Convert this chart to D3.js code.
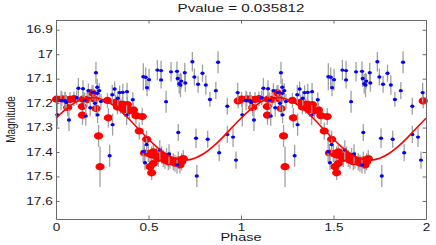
<!DOCTYPE html>
<html>
<head>
<meta charset="utf-8">
<script src="https://cdn.jsdelivr.net/npm/d3@7"></script>
<style>
  html, body { margin: 0; padding: 0; background: #fff; }
  svg { display: block; }
  text { font-family: "Liberation Sans", Arial, Helvetica, sans-serif; }
</style>
</head>
<body>
<svg id="chart" width="436" height="245"></svg>
<script>
// ---------- data (phase 0..1, repeated for 1..2) ----------
const bluePhase = [0.007,0.027,0.049,0.056,0.070,0.112,0.121,0.146,0.155,0.161,
  0.175,0.185,0.200,0.211,0.216,0.223,0.223,0.225,0.234,0.243,
  0.290,0.304,0.306,0.317,0.334,0.344,0.361,0.382,0.384,0.415,
  0.472,0.485,0.492,0.503,0.490,0.471,0.481,0.548,0.568,0.568,
  0.595,0.622,0.654,0.658,0.666,0.673,0.677,0.696,0.699,0.737,
  0.748,0.768,0.792,0.810,0.832,0.864,0.876,0.926,0.982,0.661,
  0.757,0.820,0.882,0.926,0.957,0.973,0.761,0.654,0.611,0.561];
const blueMag = [17.248,17.189,17.190,17.197,17.269,17.178,17.139,17.141,17.187,17.253,
  17.149,17.219,17.156,17.201,17.076,17.135,17.160,17.248,17.149,17.193,
  17.415,17.166,17.288,17.142,17.180,17.157,17.156,17.249,17.153,17.186,
  17.092,17.094,17.137,17.104,17.369,17.399,17.444,17.065,17.067,17.105,
  17.194,17.072,17.070,17.099,17.121,17.126,17.110,17.076,17.118,17.031,
  17.093,17.123,17.078,17.126,17.185,17.149,17.033,17.213,17.157,17.320,
  17.344,17.348,17.403,17.328,17.339,17.433,17.498,17.453,17.408,17.392];
const blueErr = [0.048,0.040,0.035,0.030,0.045,0.030,0.042,0.035,0.030,0.040,
  0.030,0.035,0.030,0.030,0.045,0.035,0.040,0.035,0.030,0.030,
  0.045,0.040,0.045,0.030,0.030,0.030,0.035,0.040,0.035,0.030,
  0.055,0.040,0.035,0.045,0.035,0.045,0.030,0.042,0.040,0.035,
  0.045,0.040,0.040,0.035,0.040,0.050,0.030,0.040,0.035,0.040,
  0.035,0.035,0.035,0.040,0.030,0.035,0.045,0.035,0.040,0.035,
  0.040,0.035,0.035,0.035,0.040,0.035,0.045,0.035,0.040,0.040];

const redPhase = [0.003,0.031,0.049,0.076,0.097,0.063,0.146,0.168,0.142,0.143,
  0.195,0.208,0.217,0.230,0.238,0.278,0.283,0.322,0.332,0.349,
  0.359,0.370,0.386,0.397,0.419,0.432,0.466,0.450,0.490,0.499,
  0.517,0.526,0.544,0.508,0.517,0.553,0.571,0.580,0.589,0.598,
  0.607,0.616,0.634,0.643,0.661,0.670,0.679,0.688,0.985,0.478,0.526];
const redMag = [17.184,17.183,17.184,17.185,17.182,17.218,17.184,17.185,17.214,17.249,
  17.157,17.183,17.222,17.334,17.460,17.189,17.260,17.197,17.216,17.214,
  17.204,17.226,17.206,17.232,17.228,17.251,17.255,17.314,17.348,17.406,
  17.412,17.399,17.419,17.460,17.485,17.426,17.412,17.426,17.433,17.419,
  17.440,17.433,17.440,17.446,17.433,17.453,17.440,17.427,17.191,17.404,17.447];
const redErr = [0.030,0.030,0.030,0.030,0.030,0.035,0.030,0.030,0.035,0.040,
  0.030,0.030,0.035,0.045,0.083,0.030,0.040,0.030,0.030,0.030,
  0.030,0.030,0.030,0.030,0.030,0.035,0.035,0.035,0.035,0.035,
  0.035,0.035,0.035,0.040,0.030,0.035,0.035,0.035,0.035,0.035,
  0.035,0.035,0.035,0.035,0.035,0.035,0.035,0.035,0.030,0.035,0.035];

const curvePhase = [0,0.05,0.1,0.15,0.2,0.25,0.3,0.35,0.4,0.45,0.5,
  0.55,0.6,0.65,0.7,0.75,0.8,0.85,0.9,0.95,1.0];
const curveMag = [17.262,17.227,17.199,17.182,17.177,17.185,17.204,17.233,17.269,17.309,17.348,
  17.383,17.411,17.428,17.433,17.425,17.406,17.377,17.341,17.301,17.262];

const xTicks = [0, 0.5, 1, 1.5, 2];
const xTickLabels = ["0", "0.5", "1", "1.5", "2"];
const yTicks = [16.9, 17, 17.1, 17.2, 17.3, 17.4, 17.5, 17.6];
const yTickLabels = ["16.9", "17", "17.1", "17.2", "17.3", "17.4", "17.5", "17.6"];
const cycles = [0, 1];

const titleText = "Pvalue = 0.035812";
const xLabel = "Phase";
const yLabel = "Magnitude";

// ---------- layout ----------
const L = 56, R = 426, T = 20, B = 219;
const SX = 1.36; // horizontal stretch of glyphs
const svg = d3.select("#chart");

const x = d3.scaleLinear().domain([0, 2]).range([L, R]);
const y = d3.scaleLinear().domain([16.86, 17.674]).range([T, B]);

const axisColor = "#6a6a6a";
const textColor = "#1a1a1a";

// expand data across the two cycles
function expand(ph, mg, er) {
  const out = [];
  cycles.forEach(c => ph.forEach((p, i) => out.push({p: p + c, m: mg[i], e: er[i]})));
  return out;
}
const blue = expand(bluePhase, blueMag, blueErr);
const red = expand(redPhase, redMag, redErr);
const curve = [];
cycles.forEach((c, ci) => curvePhase.forEach((p, i) => {
  if (ci > 0 && i === 0) return;
  curve.push({p: p + c, m: curveMag[i]});
}));

// red error bars + dots
svg.append("g").selectAll("line").data(red).join("line")
  .attr("x1", d => x(d.p)).attr("x2", d => x(d.p))
  .attr("y1", d => y(d.m - d.e)).attr("y2", d => y(d.m + d.e))
  .attr("stroke", "#a0a0a0").attr("stroke-width", 1.3);
svg.append("g").selectAll("ellipse").data(red).join("ellipse")
  .attr("cx", d => x(d.p)).attr("cy", d => y(d.m))
  .attr("rx", 4.6).attr("ry", 3.6).attr("fill", "#ff0000");

// blue error bars + dots
svg.append("g").selectAll("line").data(blue).join("line")
  .attr("x1", d => x(d.p)).attr("x2", d => x(d.p))
  .attr("y1", d => y(d.m - d.e)).attr("y2", d => y(d.m + d.e))
  .attr("stroke", "#a0a0a0").attr("stroke-width", 1.3);
svg.append("g").selectAll("ellipse").data(blue).join("ellipse")
  .attr("cx", d => x(d.p)).attr("cy", d => y(d.m))
  .attr("rx", 2.1).attr("ry", 1.7).attr("fill", "#0000ff");

// fitted curve
svg.append("path").datum(curve)
  .attr("d", d3.line().x(d => x(d.p)).y(d => y(d.m)).curve(d3.curveNatural))
  .attr("fill", "none").attr("stroke", "#ff0000").attr("stroke-width", 1.6);

// ---------- axes ----------
function styleAxis(g) {
  g.select(".domain").attr("stroke", axisColor).attr("stroke-width", 1);
  g.selectAll(".tick line").attr("stroke", axisColor).attr("stroke-width", 1);
  g.selectAll("text").attr("fill", textColor).attr("font-size", 10)
    .attr("font-family", "Liberation Sans, Arial, sans-serif");
}
const fmtX = (d, i) => xTickLabels[xTicks.indexOf(d)];
const fmtY = (d) => yTickLabels[yTicks.indexOf(d)];

const gB = svg.append("g").attr("transform", `translate(0,${B})`)
  .call(d3.axisBottom(x).tickValues(xTicks).tickFormat(fmtX)
    .tickSizeInner(-3.5).tickSizeOuter(0).tickPadding(4.6));
styleAxis(gB);
gB.selectAll("text").attr("transform", `scale(${SX},1)`);

const gT = svg.append("g").attr("transform", `translate(0,${T})`)
  .call(d3.axisTop(x).tickValues(xTicks).tickFormat("")
    .tickSizeInner(-3.5).tickSizeOuter(0));
styleAxis(gT);

const gL = svg.append("g").attr("transform", `translate(${L},0)`)
  .call(d3.axisLeft(y).tickValues(yTicks).tickFormat(fmtY)
    .tickSizeInner(-3.5).tickSizeOuter(0).tickPadding(2.4));
styleAxis(gL);
gL.selectAll("text").attr("transform", `scale(${SX},1)`);

const gR = svg.append("g").attr("transform", `translate(${R},0)`)
  .call(d3.axisRight(y).tickValues(yTicks).tickFormat("")
    .tickSizeInner(-3.5).tickSizeOuter(0));
styleAxis(gR);

// ---------- labels ----------
svg.append("text")
  .attr("transform", `translate(${(L + R) / 2},11.7) scale(1.38,1)`)
  .attr("text-anchor", "middle").attr("font-size", 11).attr("fill", textColor)
  .text(titleText);

svg.append("text")
  .attr("transform", `translate(${(L + R) / 2},240.7) scale(1.45,1)`)
  .attr("text-anchor", "middle").attr("font-size", 10).attr("fill", textColor)
  .text(xLabel);

svg.append("text")
  .attr("transform", `translate(15.3,${(T + B) / 2}) scale(1.2,1) rotate(-90)`)
  .attr("text-anchor", "middle").attr("font-size", 10).attr("fill", textColor)
  .text(yLabel);
</script>
</body>
</html>
